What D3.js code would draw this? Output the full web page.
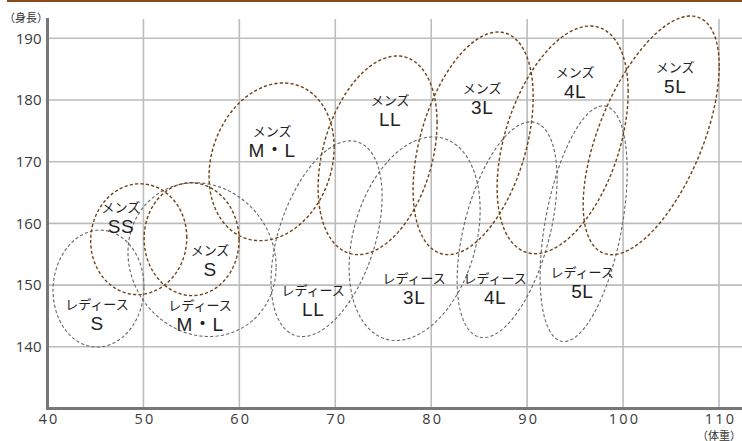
<!DOCTYPE html>
<html><head><meta charset="utf-8">
<script src="https://cdn.jsdelivr.net/npm/d3@7/dist/d3.min.js"></script>
<style>
html,body{margin:0;padding:0;background:#fff;}
svg{display:block;}
text{font-family:"Noto Sans CJK JP","Noto Sans",sans-serif;}
</style></head>
<body>
<div id="chart"></div>
<script>
// ---- data ----
const xTicks = [40, 50, 60, 70, 80, 90, 100, 110];
const yTicks = [140, 150, 160, 170, 180, 190];
const xUnit = "（体重）";
const yUnit = "（身長）";
const kinds = ["レディース","メンズ","メンズ","レディース","メンズ","レディース","メンズ","レディース","メンズ","レディース","レディース","メンズ","メンズ"];
const sizeNames = ["S","SS","S","M・L","M・L","LL","LL","3L","3L","4L","5L","4L","5L"];
// ellipse: centre weight / height, half width (kg), half height (cm), weight at top point
const centerWeight = [45.32, 49.51, 55.02, 56.11, 63.36, 69.09, 74.41, 78.27, 84.37, 87.91, 95.89, 93.70, 102.93];
const centerHeight = [149.43, 157.44, 157.44, 154.13, 169.98, 157.52, 171.04, 157.52, 172.98, 158.98, 159.95, 173.54, 174.27];
const halfWeight   = [4.74, 5.01, 4.95, 7.72, 6.52, 5.79, 6.20, 6.83, 6.26, 5.21, 4.54, 6.83, 7.09];
const halfHeight   = [9.47, 8.98, 9.14, 12.46, 12.78, 15.86, 16.10, 16.50, 18.04, 17.48, 19.09, 18.45, 19.34];
const topWeight    = [45.47, 49.65, 54.96, 55.38, 64.56, 71.59, 76.44, 80.20, 86.98, 90.36, 97.93, 96.57, 107.04];
// label anchor (weight, height)
const labelWeight = [45.16, 47.66, 56.94, 55.90, 63.41, 67.69, 75.71, 78.22, 85.31, 86.66, 95.74, 95.00, 105.43];
const labelHeight = [145.39, 161.08, 154.13, 145.23, 173.38, 147.65, 178.40, 149.60, 180.34, 149.60, 150.57, 182.93, 183.74];

// ---- drawing ----
const W = 742, H = 441;
const svg = d3.select("#chart").append("svg").attr("width", W).attr("height", H);
const x = d3.scaleLinear().domain([40, 110]).range([47.5, 719]);
const y = d3.scaleLinear().domain([130, 190]).range([408.5, 38.3]);
const numFont = '"Open Sans","Noto Sans",sans-serif';

// top brown rule
svg.append("line").attr("x1", 7).attr("x2", W).attr("y1", 1).attr("y2", 1)
  .attr("stroke", "#8a4b18").attr("stroke-width", 2);

// grid
const grid = svg.append("g");
grid.selectAll("line.v").data(xTicks.filter(d => d > 40)).join("line")
  .attr("x1", d => x(d)).attr("x2", d => x(d)).attr("y1", 19).attr("y2", y(130))
  .attr("stroke", "#bdbdbd").attr("stroke-width", 1.6);
grid.selectAll("line.h").data(yTicks).join("line")
  .attr("x1", x(40)).attr("x2", W).attr("y1", d => y(d)).attr("y2", d => y(d))
  .attr("stroke", "#bdbdbd").attr("stroke-width", 1.6);

// axes lines
svg.append("line").attr("x1", x(40)).attr("x2", x(40)).attr("y1", 18).attr("y2", y(130) + 1.5)
  .attr("stroke", "#777").attr("stroke-width", 3);
svg.append("line").attr("x1", x(40) - 1.5).attr("x2", W).attr("y1", y(130)).attr("y2", y(130))
  .attr("stroke", "#777").attr("stroke-width", 3);

// tick labels using d3 axes
const yAxis = d3.axisLeft(y).tickValues(yTicks).tickSize(0).tickPadding(5);
const gy = svg.append("g").attr("transform", `translate(${x(40) - 1},0)`).call(yAxis);
gy.select(".domain").remove();
gy.selectAll("text").attr("font-size", 15).attr("fill", "#3a3a3a")
  .style("font-family", numFont);

const xAxis = d3.axisBottom(x).tickValues(xTicks).tickSize(0).tickPadding(5);
const gx = svg.append("g").attr("transform", `translate(1,${y(130)})`).call(xAxis);
gx.select(".domain").remove();
gx.selectAll("text").attr("font-size", 14.5).attr("fill", "#3a3a3a").attr("letter-spacing", 2.2)
  .style("font-family", numFont);

svg.append("text").attr("x", x(110)).attr("y", 439.5).attr("text-anchor", "middle")
  .attr("font-size", 11).attr("fill", "#333").text(xUnit);
svg.append("text").attr("x", 26).attr("y", 21.5).attr("text-anchor", "middle")
  .attr("font-size", 11).attr("fill", "#333").text(yUnit);

// ellipses
const idx = d3.range(kinds.length);
const line = d3.line().curve(d3.curveLinearClosed);
function ellipsePts(i) {
  const phi = Math.asin(Math.max(-1, Math.min(1, (topWeight[i] - centerWeight[i]) / halfWeight[i])));
  return d3.range(0, 180).map(k => {
    const t = k / 180 * 2 * Math.PI;
    return [x(centerWeight[i] + halfWeight[i] * Math.cos(t)),
            y(centerHeight[i] + halfHeight[i] * Math.sin(t + phi))];
  });
}
svg.append("g").selectAll("path").data(idx).join("path")
  .attr("d", i => line(ellipsePts(i)))
  .attr("fill", "none")
  .attr("stroke", i => kinds[i] === "メンズ" ? "#6e4216" : "#666")
  .attr("stroke-width", i => kinds[i] === "メンズ" ? 1.4 : 1.1)
  .attr("stroke-dasharray", "3.2,2.2");

// labels
const lg = svg.append("g").selectAll("g").data(idx).join("g")
  .attr("transform", i => `translate(${x(labelWeight[i])},${y(labelHeight[i])})`);
lg.append("text").attr("text-anchor", "middle").attr("y", -5)
  .attr("font-size", 13).attr("fill", "#222").text(i => kinds[i]);
lg.append("text").attr("text-anchor", "middle").attr("y", 16.5)
  .attr("font-size", 19).attr("fill", "#222").attr("letter-spacing", 0.5)
  .style("font-family", '"Liberation Sans","Noto Sans CJK JP",sans-serif')
  .text(i => sizeNames[i]);
</script>
</body></html>
